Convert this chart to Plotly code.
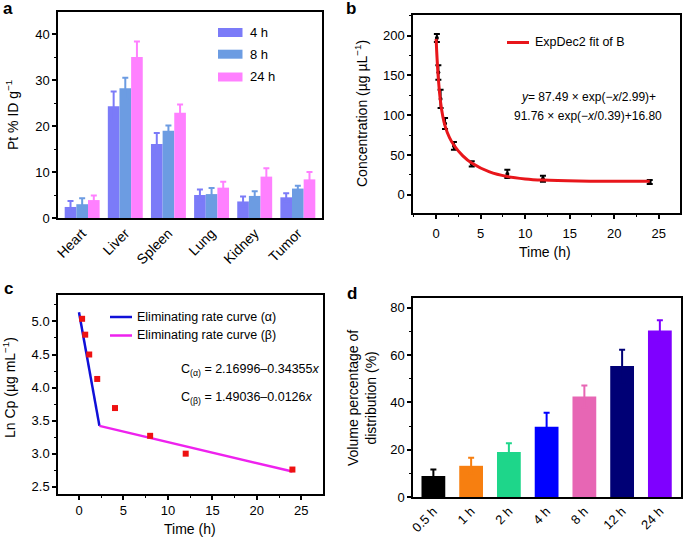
import plotly.graph_objects as go

# ---- panel a: Pt biodistribution ----
organs = ["Heart", "Liver", "Spleen", "Lung", "Kidney", "Tumor"]
a_4h = [2.4, 24.3, 16.1, 5.0, 3.6, 4.5]
a_4h_err = [1.3, 3.2, 2.4, 1.2, 1.1, 0.9]
a_8h = [3.0, 28.2, 19.0, 5.2, 4.8, 6.4]
a_8h_err = [1.3, 2.3, 1.1, 1.3, 1.0, 0.6]
a_24h = [3.9, 35.0, 22.9, 6.6, 9.0, 8.4]
a_24h_err = [1.0, 3.4, 1.8, 1.3, 1.8, 1.6]

# ---- panel b: plasma concentration ----
b_time = [0.083, 0.25, 0.5, 1, 2, 4, 8, 12, 24]
b_conc = [197, 153.7, 120.5, 89.5, 61.4, 38.8, 26.2, 20.1, 15.9]
b_err = [5, 9, 11.5, 7, 5, 3.2, 5.2, 3.8, 2.5]
# ExpDec2 fit curve
fit_time = [0, 0.1, 0.25, 0.5, 0.75, 1, 1.5, 2, 3, 4, 6, 8, 10, 12, 16, 20, 24]
fit_conc = [196.0, 172.4, 145.6, 116.2, 98.3, 86.5, 71.7, 62.2, 48.9, 39.8,
            28.6, 22.8, 19.9, 18.4, 17.2, 16.9, 16.8]

# ---- panel c: ln Cp ----
c_time = [0.35, 0.7, 1.15, 2.05, 4.05, 8, 12, 24]
c_lncp = [5.04, 4.80, 4.50, 4.13, 3.69, 3.27, 3.00, 2.76]
alpha_x = [0, 2.3]
alpha_y = [5.14, 3.42]
beta_x = [2.3, 24]
beta_y = [3.42, 2.73]

# ---- panel d: volume percentage ----
d_labels = ["0.5 h", "1 h", "2 h", "4 h", "8 h", "12 h", "24 h"]
d_vals = [8.9, 13.2, 19.0, 29.7, 42.5, 55.4, 70.5]
d_err = [2.7, 3.4, 3.7, 6.0, 4.7, 6.9, 4.3]
d_colors = ["#000000", "#F77F10", "#1ED68A", "#0000FF", "#E766B4", "#000075", "#7F00FF"]

FONT = "Liberation Sans, Arial, sans-serif"
W, H = 685, 539

def px_x(x):
    return x / W

def px_y(y):
    return 1 - y / H

def ax(**kw):
    base = dict(showline=True, linecolor="black", linewidth=1.5, mirror=True,
                ticks="outside", ticklen=4, tickwidth=1.5, tickcolor="black",
                showgrid=False, zeroline=False, automargin=False,
                tickfont=dict(size=13, color="black", family=FONT))
    base.update(kw)
    return base

fig = go.Figure()

# panel a bars
for name, vals, errs, col in [("4 h", a_4h, a_4h_err, "#7B7BF8"),
                              ("8 h", a_8h, a_8h_err, "#6C9CE2"),
                              ("24 h", a_24h, a_24h_err, "#FF80FF")]:
    fig.add_trace(go.Bar(x=organs, y=vals, name=name, marker_color=col,
                         marker_line_width=0,
                         error_y=dict(type="data", array=errs, color=col,
                                      thickness=2, width=3),
                         xaxis="x", yaxis="y", showlegend=False))

# panel b
fig.add_trace(go.Scatter(x=b_time, y=b_conc, mode="markers",
                         marker=dict(color="black", size=4),
                         error_y=dict(type="data", array=b_err, color="black",
                                      thickness=2, width=3),
                         xaxis="x2", yaxis="y2", showlegend=False))
fig.add_trace(go.Scatter(x=fit_time, y=fit_conc, mode="lines",
                         line=dict(color="#E8161B", width=3, shape="spline"),
                         xaxis="x2", yaxis="y2", showlegend=False))

# panel c
fig.add_trace(go.Scatter(x=alpha_x, y=alpha_y, mode="lines",
                         line=dict(color="#1010D8", width=2.5),
                         xaxis="x3", yaxis="y3", showlegend=False))
fig.add_trace(go.Scatter(x=beta_x, y=beta_y, mode="lines",
                         line=dict(color="#EE22EE", width=2.5),
                         xaxis="x3", yaxis="y3", showlegend=False))
fig.add_trace(go.Scatter(x=c_time, y=c_lncp, mode="markers",
                         marker=dict(color="#EE1111", size=6, symbol="square"),
                         xaxis="x3", yaxis="y3", showlegend=False))

# panel d: one trace per bar so each error bar takes the bar colour
for lab, v, e, col in zip(d_labels, d_vals, d_err, d_colors):
    fig.add_trace(go.Bar(x=[lab], y=[v], marker_color=col, marker_line_width=0,
                         width=0.63, offset=-0.315,
                         error_y=dict(type="data", array=[e], color=col,
                                      thickness=2, width=3),
                         xaxis="x4", yaxis="y4", showlegend=False))

fig.update_layout(
    width=W, height=H,
    margin=dict(l=0, r=0, t=0, b=0, autoexpand=False),
    paper_bgcolor="white", plot_bgcolor="white",
    font=dict(family=FONT, size=13, color="black"),
    barmode="group", bargap=0.19, bargroupgap=0,
    xaxis=ax(domain=[px_x(58), px_x(322)], anchor="y", ticks="",
             categoryorder="array", categoryarray=organs,
             range=[-0.56, 5.56], tickangle=-45,
             tickfont=dict(size=14, color="black", family=FONT)),
    yaxis=ax(domain=[px_y(218), px_y(12)], anchor="x", range=[0, 44.8],
             dtick=10, minor=dict(ticks="outside", ticklen=2, dtick=5,
                                  tickcolor="black", tickwidth=1)),
    xaxis2=ax(domain=[px_x(413), px_x(680)], anchor="y2", range=[-2.6, 27.4],
              dtick=5, ticklabelstandoff=4,
              minor=dict(ticks="outside", ticklen=2, dtick=2.5,
                         tickcolor="black", tickwidth=1)),
    yaxis2=ax(domain=[px_y(213), px_y(15)], anchor="x2", range=[-23, 226],
              dtick=50, minor=dict(ticks="outside", ticklen=2, dtick=25,
                                   tickcolor="black", tickwidth=1)),
    xaxis3=ax(domain=[px_x(58), px_x(323)], anchor="y3", range=[-2.36, 27.44],
              dtick=5, ticklabelstandoff=0,
              minor=dict(ticks="outside", ticklen=2, dtick=2.5,
                         tickcolor="black", tickwidth=1)),
    yaxis3=ax(domain=[px_y(494), px_y(295)], anchor="x3", range=[2.39, 5.40],
              dtick=0.5, tick0=2.5, tickformat=".1f",
              minor=dict(ticks="outside", ticklen=2, dtick=0.25,
                         tickcolor="black", tickwidth=1)),
    xaxis4=ax(domain=[px_x(413), px_x(681)], anchor="y4", ticks="",
              categoryorder="array", categoryarray=d_labels,
              range=[-0.54, 6.56], tickangle=-45),
    yaxis4=ax(domain=[px_y(497), px_y(298)], anchor="x4", range=[0, 84.2],
              dtick=20, minor=dict(ticks="outside", ticklen=2, dtick=10,
                                   tickcolor="black", tickwidth=1)),
)

shapes = []
annotations = []

def text(x, y, t, size=13, xanchor="left", angle=0):
    annotations.append(dict(
        x=px_x(x), y=px_y(y), xref="paper", yref="paper", text=t,
        showarrow=False, xanchor=xanchor, yanchor="middle", textangle=angle,
        font=dict(size=size, color="black", family=FONT)))

# panel letters
for lx, ly, letter in [(1, 8, "a"), (344, 8, "b"), (2, 288, "c"), (345, 293, "d")]:
    annotations.append(dict(x=px_x(lx), y=px_y(ly), xref="paper", yref="paper",
                            text=f"<b>{letter}</b>", showarrow=False,
                            xanchor="left", yanchor="middle",
                            font=dict(size=17, color="black", family=FONT)))

# legend a
for yy, lab, col in [(32.5, "4 h", "#7B7BF8"), (54.2, "8 h", "#6C9CE2"),
                     (77, "24 h", "#FF80FF")]:
    shapes.append(dict(type="rect", xref="paper", yref="paper",
                       x0=px_x(218), x1=px_x(242.5), y0=px_y(yy + 4.5), y1=px_y(yy - 4.5),
                       fillcolor=col, line_width=0))
    text(248, yy, lab)

# legend b
shapes.append(dict(type="line", xref="paper", yref="paper",
                   x0=px_x(507), x1=px_x(529), y0=px_y(42.5), y1=px_y(42.5),
                   line=dict(color="#E8161B", width=3)))
text(533, 42.5, "ExpDec2 fit of B", size=12.5)
text(588, 96.5, "<i>y</i>= 87.49 × exp(−<i>x</i>/2.99)+", size=12, xanchor="center")
text(588, 115.5, "91.76 × exp(−<i>x</i>/0.39)+16.80", size=12, xanchor="center")

# legend c
shapes.append(dict(type="line", xref="paper", yref="paper",
                   x0=px_x(110), x1=px_x(132), y0=px_y(317), y1=px_y(317),
                   line=dict(color="#1010D8", width=2.5)))
shapes.append(dict(type="line", xref="paper", yref="paper",
                   x0=px_x(110), x1=px_x(132), y0=px_y(335.5), y1=px_y(335.5),
                   line=dict(color="#EE22EE", width=2.5)))
text(135, 316.5, "Eliminating rate curve (α)", size=12.5)
text(135, 335, "Eliminating rate curve (β)", size=12.5)
text(179, 370, "C<sub>(α)</sub> = 2.16996–0.34355<i>x</i>", size=12.5)
text(179, 398, "C<sub>(β)</sub> = 1.49036–0.0126<i>x</i>", size=12.5)

# axis titles
text(12, 115, "Pt % ID g<sup>−1</sup>", size=14, xanchor="center", angle=-90)
text(361, 113, "Concentration (µg µL<sup>−1</sup>)", size=14, xanchor="center", angle=-90)
text(545, 252, "Time (h)", size=14, xanchor="center")
text(9, 388, "Ln Cp (µg mL<sup>−1</sup>)", size=14, xanchor="center", angle=-90)
text(190, 529, "Time (h)", size=14, xanchor="center")
text(362, 398, "Volume percentage of<br>distribution (%)", size=14, xanchor="center", angle=-90)

fig.update_layout(shapes=shapes, annotations=annotations)

fig.write_html("out.html", config={"displayModeBar": False},
               post_script="document.body.style.margin='0';document.body.style.overflow='hidden';")
